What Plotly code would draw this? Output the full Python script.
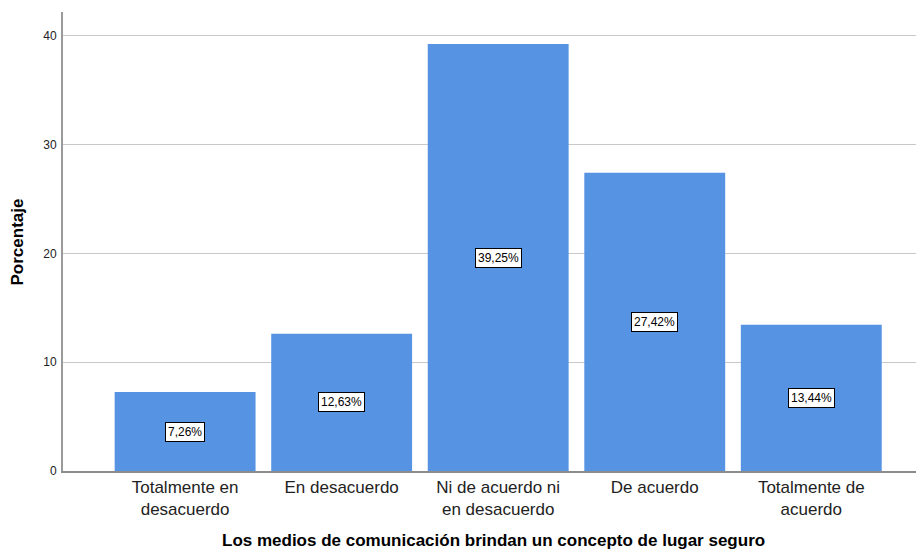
import plotly.graph_objects as go

categories = ["Totalmente en<br>desacuerdo", "En desacuerdo", "Ni de acuerdo ni<br>en desacuerdo",
              "De acuerdo", "Totalmente de<br>acuerdo"]
values = [7.26, 12.63, 39.25, 27.42, 13.44]
labels = ["7,26%", "12,63%", "39,25%", "27,42%", "13,44%"]
y_ticks = [0, 10, 20, 30, 40]

FONT = "Liberation Sans, Arial"

fig = go.Figure()
fig.add_trace(go.Bar(x=list(range(len(categories))), y=values,
                     marker=dict(color="#5694E3", line=dict(width=0)),
                     hoverinfo="skip"))

for i, (v, lab) in enumerate(zip(values, labels)):
    fig.add_annotation(x=i, y=v / 2, text=lab, showarrow=False,
                       font=dict(family=FONT, size=12, color="black"),
                       bgcolor="white", bordercolor="black", borderwidth=1, borderpad=2)

fig.add_annotation(x=0.5, xref="paper", xanchor="center", y=-0.151, yref="paper", yanchor="middle",
                   text="<b>Los medios de comunicación brindan un concepto de lugar seguro</b>",
                   showarrow=False, font=dict(family=FONT, size=17, color="black"))
fig.add_annotation(x=-0.0523, xref="paper", xanchor="center", y=0.5, yref="paper",
                   yanchor="middle", textangle=-90,
                   text="<b>Porcentaje</b>", showarrow=False,
                   font=dict(family=FONT, size=17, color="black"))

fig.update_layout(
    width=916, height=544,
    margin=dict(l=55, r=0, t=4, b=81),
    plot_bgcolor="white", paper_bgcolor="white",
    bargap=0.1, showlegend=False,
    xaxis=dict(range=[-0.78, 4.72], tickmode="array", tickvals=list(range(len(categories))),
               ticktext=categories, showgrid=False, zeroline=False,
               showline=True, linecolor="#8c8c8c", linewidth=1.5, ticks="",
               tickfont=dict(family=FONT, size=17, color="#222222")),
    yaxis=dict(range=[0, 42.2], tickvals=y_ticks, showgrid=True, gridcolor="#c8c8c8", gridwidth=1,
               zeroline=False, showline=True, linecolor="#9a9a9a", linewidth=2, ticks="",
               ticklabelstandoff=2,
               tickfont=dict(family=FONT, size=12, color="#222222")),
)

fig.write_html("out.html")
